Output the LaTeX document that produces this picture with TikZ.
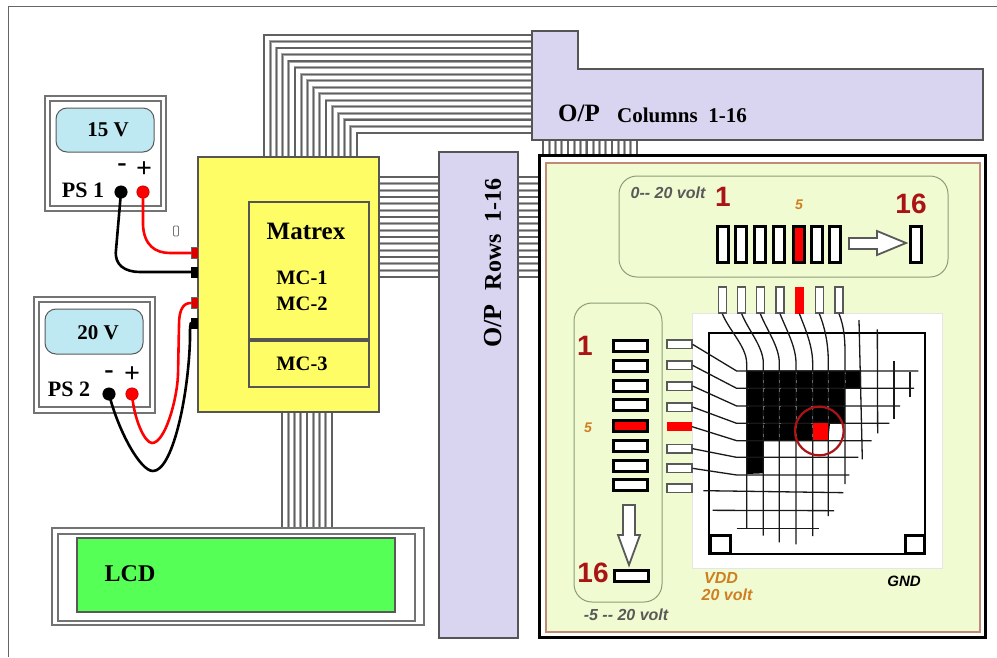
\documentclass[tikz,border=0pt]{standalone}
\usepackage{fontspec}
\setmainfont{Liberation Serif}
\setsansfont{Liberation Sans}
\definecolor{opfill}{HTML}{D9D4EF}
\definecolor{edge}{HTML}{555555}
\definecolor{yel}{HTML}{FFFD66}
\definecolor{scr}{HTML}{BEE9F3}
\definecolor{lime}{HTML}{55FF55}
\definecolor{panel}{HTML}{F0FBD2}
\definecolor{brown1}{HTML}{C08A78}
\definecolor{round1}{HTML}{8D9C78}
\definecolor{dred}{HTML}{AA1414}
\definecolor{org}{HTML}{CF7F22}
\definecolor{wirecol}{HTML}{606060}
\newcommand{\fs}[1]{\fontsize{#1}{#1}\selectfont}
\tikzset{
  x=1pt,y=-1pt,
  boxd/.style={draw=edge,line width=1.3pt,inner sep=0pt},
  frm/.style={draw=#1,fill=white,line width=1.7pt},
  lbl/.style={inner sep=0pt,font=\bfseries\fs{#1}},
  ital/.style={inner sep=0pt,font=\sffamily\itshape\bfseries\fs{#1}},
  rednum/.style={inner sep=0pt,text=dred,font=\sffamily\bfseries\fs{#1}},
  halo/.style={draw=black!35,line width=2.8pt},
  core/.style={draw=wirecol,line width=1.3pt},
  bigpin/.style={draw=black,fill=white,line width=3pt,inner sep=0pt,minimum width=#1},
  smallpin/.style={draw=black!65,fill=white,line width=1.5pt,inner sep=0pt},
  redpin/.style={fill=red,inner sep=0pt},
  term/.style={circle,inner sep=0pt,minimum size=12.5pt,draw=#1!70!black,fill=#1,line width=.5pt},
  plug/.style={fill=#1,inner sep=0pt,minimum width=7pt,minimum height=11pt},
  lead/.style={draw=#1,line width=2.6pt,line cap=round},
  fatarrow/.style={draw=black!65,fill=white,line width=1.8pt,line join=miter},
  gridline/.style={draw=black!90,line width=1.3pt},
}
\begin{document}
\begin{tikzpicture}
\useasboundingbox (0,0) rectangle (997,657);
\fill[white] (0,0) rectangle (997,657);
% outer frame
\draw[black!60,line width=1.4pt] (8.5,657) -- (8.5,6.5) -- (997,6.5);

% ribbon end coordinates
\foreach \i in {0,...,15}{
  \coordinate (mt\i) at ({264+\i*6.2},157);
  \coordinate (oc\i) at (532,{35+\i*6.53});
  \coordinate (mr\i) at (379,{177+\i*6.67});
  \coordinate (pl\i) at (540,{177+\i*6.67});
  \coordinate (oa\i) at ({543+\i*6.27},140);
  \coordinate (pt\i) at ({543+\i*6.27},155);
}
\foreach \i in {0,...,8}{
  \coordinate (mb\i) at ({282+\i*6.25},412);
  \coordinate (lc\i) at ({282+\i*6.25},528);
}
\foreach \i in {0,...,15}{
  \draw[halo] (mt\i) |- (oc\i);
  \draw[halo] (mr\i) -- (pl\i);
  \draw[halo] (oa\i) -- (pt\i);
}
\foreach \i in {0,...,8}{ \draw[halo] (mb\i) -- (lc\i); }
\foreach \i in {0,...,15}{
  \draw[core] (mt\i) |- (oc\i);
  \draw[core] (mr\i) -- (pl\i);
  \draw[core] (oa\i) -- (pt\i);
}
\foreach \i in {0,...,8}{ \draw[core] (mb\i) -- (lc\i); }

% O/P blocks
\draw[boxd,fill=opfill] (532,31) -- (578,31) -- (578,69) -- (983,69) -- (983,140) -- (532,140) -- cycle;
\node[lbl=25] (opc1) at (579,113) {O/P};
\node[lbl=21] (opc2) at (682,115) {Columns\ \ 1-16};
\draw[boxd,fill=opfill] (439,152) rectangle (518,638);
\node[lbl=26,rotate=90] (opr1) at (493,326) {O/P};
\node[lbl=24,rotate=90] (opr2) at (493,234) {Rows\ \ 1-16};

% main board
\draw[boxd,fill=yel] (198,157) rectangle (379,412);
\draw[boxd,fill=yel] (249,202) rectangle (369,339);
\draw[boxd,fill=yel] (249,341) rectangle (369,387);
\node[lbl=25] (mx) at (306,231) {Matrex};
\node[lbl=20.5] (mc1) at (302,278) {MC-1};
\node[lbl=20.5] (mc2) at (302,304) {MC-2};
\node[lbl=20.5] (mc3) at (302,364) {MC-3};
\node[draw=black!55,fill=white,rounded corners=1pt,line width=.9pt,inner sep=0pt,minimum width=5pt,minimum height=10pt] (tiny) at (176,231) {};

% PS 1
\draw[frm=black!55] (45,96) rectangle (166,211);
\draw[frm=black!55] (50,101) rectangle (161,206);
\draw[draw=black!65,fill=scr,line width=1pt,rounded corners=11pt] (56,108) rectangle (154,152);
\node[lbl=21] (v15) at (108,130) {15 V};
\node[lbl=28] (pm1) at (122,168) {-};
\node[lbl=28] (pp1) at (144,170) {+};
\node[lbl=22] (ps1) at (83,190) {PS 1};
\node[term=black] (t1n) at (121,192) {};
\node[term=red] (t1p) at (143,192) {};
% PS 2
\draw[frm=black!55] (34,297) rectangle (155,413);
\draw[frm=black!55] (39,302) rectangle (150,407);
\draw[draw=black!65,fill=scr,line width=1pt,rounded corners=11pt] (45,309) rectangle (143,354);
\node[lbl=21] (v20) at (98,333) {20 V};
\node[lbl=28] (pm2) at (109,375) {-};
\node[lbl=28] (pp2) at (132,375) {+};
\node[lbl=22] (ps2) at (69,389) {PS 2};
\node[term=black] (t2n) at (109,394) {};
\node[term=red] (t2p) at (132,394) {};
% plugs
\node[plug=red!85!black,draw=black!60,line width=.5pt] (p1r) at (194.5,253) {};
\node[plug=black] (p1b) at (194.5,272) {};
\node[plug=red!85!black,draw=black!60,line width=.5pt] (p2r) at (194.5,303) {};
\node[plug=black] (p2b) at (194.5,323) {};
% leads
\draw[lead=red] (t1p.center) -- (143,225) .. controls (144,245) and (155,253) .. (170,253) -- (p1r.west);
\draw[lead=black] (t1n.center) -- (116,250) .. controls (114,265) and (125,272) .. (140,272) -- (p1b.west);
\draw[lead=red] (t2p.center) .. controls (134,420) and (145,443) .. (152,443) .. controls (165,443) and (177,400) .. (178,375) -- (179,325) .. controls (179,310) and (183,303) .. (p2r.west);
\draw[lead=black] (t2n.center) .. controls (118,430) and (140,471) .. (153,471) .. controls (172,471) and (188,400) .. (190,340) -- (190,330) .. controls (190,326) and (191,323) .. (p2b.west);

% LCD
\draw[frm=black!55] (52,528) rectangle (424,625);
\draw[frm=black!55] (58,534) rectangle (415,621);
\draw[draw=black!65,fill=lime,line width=1.3pt] (77,538) rectangle (395,612);
\node[lbl=24] (lcd) at (130,574) {LCD};

% right panel
\draw[black,fill=white,line width=3pt] (539,155) rectangle (985,637);
\draw[brown1,fill=panel,line width=1.4pt] (546,163) rectangle (980,632);
\draw[round1,line width=1pt,rounded corners=18pt] (619,176) rectangle (948,277);
\draw[round1,line width=1pt,rounded corners=18pt] (574,303) rectangle (662,602);
\node[ital=16,text=black!65] (v1) at (668,193) {0-{}- 20 volt};
\node[rednum=28] (c1) at (723,197) {1};
\node[ital=14,text=org] (c5) at (799,205) {5};
\node[rednum=28] (c16) at (911,204) {16};
\foreach \n/\cx in {1/723,2/740.5,3/759.5,4/778.5,6/817,7/835,8/916}{
  \node[bigpin=11pt,minimum height=36pt] (bc\n) at (\cx,244) {};
}
\node[bigpin=11pt,minimum height=36pt,fill=red] (bc5) at (798.5,244) {};
\draw[fatarrow] (849,238) -- (877,238) -- (877,231) -- (906,243) -- (877,255) -- (877,249) -- (849,249) -- cycle;

\node[ital=16,text=black!65] (v2) at (626,615) {-5 -{}- 20 volt};
\node[rednum=28] (r1) at (585,346) {1};
\node[ital=14,text=org] (r5) at (588,428) {5};
\node[rednum=28] (r16) at (593,573) {16};
\foreach \n/\cy in {1/346,2/366,3/386,4/405,6/446,7/466,8/485}{
  \node[bigpin=34pt,minimum height=11pt] (br\n) at (630.5,\cy) {};
}
\node[bigpin=34pt,minimum height=11pt,fill=red] (br5) at (630.5,426) {};
\node[bigpin=34pt,minimum height=10.5pt] (br16) at (631.5,576) {};
\draw[fatarrow] (623,505) -- (635,505) -- (635,535) -- (640,535) -- (629,565) -- (618,535) -- (623,535) -- cycle;

% memory array
\draw[draw=black!10,fill=white,line width=1pt] (692,313) rectangle (942,568);
\draw[black,line width=1.5pt] (709,333) rectangle (925,554);
\draw[black,line width=3pt] (710,535) rectangle (730,553.5);
\draw[black,line width=3pt] (905,535) rectangle (924,553.5);

\begin{scope}[shift={(660,300)},x=0.33333pt,y=-0.33333pt]
  % top small pins
  \foreach \n/\cx in {1/187,2/245,3/301,4/360,6/478,7/537}{
    \node[smallpin,minimum width=8pt,minimum height=26pt] (tp\n) at (\cx,0) {};
  }
  \node[redpin,minimum width=8.5pt,minimum height=27pt] (tp5) at (418,0) {};
  % left small pins
  \foreach \n/\cy in {1/133,2/196,3/258,4/321,6/446,7/505,8/565}{
    \node[smallpin,minimum width=25pt,minimum height=8.5pt] (lp\n) at (58,\cy) {};
  }
  \node[redpin,minimum width=25pt,minimum height=9pt] (lp5) at (58,380) {};
  % programmed region
  \fill[black] (260,211) -- (603,211) -- (603,265) -- (555,265) -- (555,370) -- (510,370) -- (505,420) -- (310,420) -- (310,520) -- (260,522) -- cycle;
  % column lines
  \foreach \n/\gx/\ey in {1/260/685,2/310/707,3/358/727,4/408/733,5/458/708,6/505/648,7/555/552}{
    \coordinate (ce\n) at (\gx,\ey);
    \draw[gridline] (tp\n.south) .. controls ++(20,50) and (\gx,140) .. (\gx,190) -- (ce\n);
  }
  % free column lines
  \coordinate (f1a) at (597,60);  \coordinate (f1b) at (607,478);
  \coordinate (f2a) at (652,88);  \coordinate (f2b) at (653,400);
  \coordinate (f3a) at (702,183); \coordinate (f3b) at (702,358);
  \coordinate (f4a) at (750,215); \coordinate (f4b) at (750,290);
  \draw[gridline] (f1a) -- (f1b);
  \draw[gridline] (f2a) -- (f2b);
  \draw[gridline] (f3a) -- (f3b);
  \draw[gridline] (f4a) -- (f4b);
  % row lines
  \foreach \n/\gy/\ex in {1/213/775,2/265/762,3/318/720,4/370/688,5/422/635,6/472/595,7/525/568}{
    \coordinate (re\n) at (\ex,\gy);
    \draw[gridline] (lp\n.east) -- (230,\gy) -- (re\n);
  }
  \coordinate (r8a) at (130,572); \coordinate (r8b) at (550,578);
  \coordinate (r9a) at (158,631); \coordinate (r9b) at (522,632);
  \coordinate (r0a) at (230,685); \coordinate (r0b) at (477,685);
  \draw[gridline] (r8a) -- (r8b);
  \draw[gridline] (r9a) -- (r9b);
  \draw[gridline] (r0a) -- (r0b);
  % faint texture in the black area
  \begin{scope}
    \clip (265,218) -- (598,218) -- (598,260) -- (550,260) -- (550,365) -- (505,365) -- (500,415) -- (305,415) -- (305,515) -- (265,515) -- cycle;
    \foreach \gx in {310,358,408,458,505,555}{
      \draw[black!60,line width=.6pt,dash pattern=on 3pt off 6pt] (\gx,213) -- (\gx,520);
    }
    \foreach \gy in {265,318,370}{
      \draw[black!60,line width=.6pt,dash pattern=on 2pt off 14pt] (260,\gy) -- (600,\gy);
    }
  \end{scope}
  % selected cell
  \fill[red] (458,370) rectangle (505,420);
  \draw[dred,line width=2.2pt] (478,393) circle [radius=73];
\end{scope}

\node[ital=16,text=org] (vdd) at (721,578) {VDD};
\node[ital=16,text=org] (v20b) at (727,595) {20 volt};
\node[ital=15,text=black] (gnd) at (904,581) {GND};
\end{tikzpicture}
\end{document}
